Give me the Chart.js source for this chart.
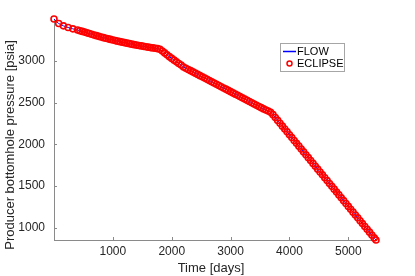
<!DOCTYPE html>
<html>
<head>
<meta charset="utf-8">
<script src="https://cdn.jsdelivr.net/npm/chart.js@4/dist/chart.umd.min.js"></script>
<style>
  html, body { margin: 0; padding: 0; background: #ffffff; }
  #wrap { width: 415px; height: 276px; }
</style>
</head>
<body>
<div id="wrap"><canvas id="c" width="415" height="276"></canvas></div>
<script>
// ---- Data ----
const days = [0, 80, 160, 240, 320, 400, 440, 480, 520, 560, 600, 640, 680, 720, 760, 800, 840, 880, 920, 960,
  1000, 1040, 1080, 1120, 1160, 1200, 1240, 1280, 1320, 1360, 1400, 1440, 1480, 1520, 1560, 1600, 1640, 1680, 1720, 1760,
  1800, 1840, 1880, 1920, 1960, 2000, 2040, 2080, 2120, 2160, 2200, 2240, 2280, 2320, 2360, 2400, 2440, 2480, 2520, 2560,
  2600, 2640, 2680, 2720, 2760, 2800, 2840, 2880, 2920, 2960, 3000, 3040, 3080, 3120, 3160, 3200, 3240, 3280, 3320, 3360,
  3400, 3440, 3480, 3520, 3560, 3600, 3640, 3680, 3720, 3760, 3800, 3840, 3880, 3920, 3960, 4000, 4040, 4080, 4120, 4160,
  4200, 4240, 4280, 4320, 4360, 4400, 4440, 4480, 4520, 4560, 4600, 4640, 4680, 4720, 4760, 4800, 4840, 4880, 4920, 4960,
  5000, 5040, 5080, 5120, 5160, 5200, 5240, 5280, 5320, 5360, 5400, 5440, 5470];

const eclipsePressure = [3504, 3450, 3422, 3402, 3386, 3372, 3363, 3355, 3347, 3338, 3330, 3321, 3312, 3304, 3296, 3288, 3280, 3273, 3266, 3259,
  3252, 3245, 3238, 3232, 3226, 3220, 3214, 3208, 3202, 3196, 3191, 3186, 3181, 3176, 3171, 3166, 3161, 3157, 3153, 3148,
  3141, 3120, 3097, 3074, 3052, 3031, 3010, 2990, 2970, 2951, 2928, 2913, 2898, 2884, 2869, 2854, 2839, 2824, 2810, 2795,
  2780, 2765, 2750, 2736, 2721, 2706, 2691, 2676, 2662, 2647, 2632, 2617, 2602, 2588, 2573, 2558, 2543, 2528, 2514, 2499,
  2484, 2469, 2454, 2440, 2425, 2412, 2400, 2384, 2356, 2322, 2287, 2253, 2218, 2184, 2150, 2115, 2081, 2046, 2012, 1978,
  1943, 1909, 1874, 1840, 1806, 1771, 1737, 1702, 1668, 1634, 1599, 1565, 1530, 1496, 1462, 1427, 1393, 1358, 1324, 1290,
  1255, 1221, 1186, 1152, 1118, 1083, 1049, 1014, 980, 946, 911, 877, 852];

const flowPressure = [3504, 3450, 3422, 3402, 3386, 3372, 3363, 3355, 3347, 3338, 3330, 3321, 3312, 3304, 3296, 3288, 3280, 3273, 3266, 3259,
  3252, 3245, 3238, 3232, 3226, 3220, 3214, 3208, 3202, 3196, 3191, 3186, 3181, 3176, 3171, 3166, 3161, 3157, 3153, 3148,
  3141, 3120, 3097, 3074, 3052, 3031, 3010, 2990, 2970, 2951, 2928, 2913, 2898, 2884, 2869, 2854, 2839, 2824, 2810, 2795,
  2780, 2765, 2750, 2736, 2721, 2706, 2691, 2676, 2662, 2647, 2632, 2617, 2602, 2588, 2573, 2558, 2543, 2528, 2514, 2499,
  2484, 2469, 2454, 2440, 2425, 2412, 2400, 2384, 2356, 2322, 2287, 2253, 2218, 2184, 2150, 2115, 2081, 2046, 2012, 1978,
  1943, 1909, 1874, 1840, 1806, 1771, 1737, 1702, 1668, 1634, 1599, 1565, 1530, 1496, 1462, 1427, 1393, 1358, 1324, 1290,
  1255, 1221, 1186, 1152, 1118, 1083, 1049, 1014, 980, 946, 911, 877, 852];

const seriesNames = ['FLOW', 'ECLIPSE'];
const xTicks = [1000, 2000, 3000, 4000, 5000];
const yTicks = [1000, 1500, 2000, 2500, 3000];
const xTitle = 'Time [days]';
const yTitle = 'Producer bottomhole pressure [psia]';

// ---- Styling ----
const FONT = '"Liberation Sans", Arial, Helvetica, sans-serif';
const AXIS_COLOR = '#8a8a8a';
const TEXT_COLOR = '#262626';

const toPoints = (xs, ys) => xs.map((x, i) => ({ x: x, y: ys[i] }));

const extras = {
  id: 'extras',
  afterDraw(chart) {
    const ctx = chart.ctx;
    const xs = chart.scales.x, ys = chart.scales.y;
    const area = chart.chartArea;
    ctx.save();
    // inward tick marks
    ctx.strokeStyle = AXIS_COLOR;
    ctx.lineWidth = 1;
    ctx.beginPath();
    xs.ticks.forEach(t => {
      const px = Math.round(xs.getPixelForValue(t.value)) + 0.5;
      ctx.moveTo(px, area.bottom);
      ctx.lineTo(px, area.bottom - 3);
    });
    ys.ticks.forEach(t => {
      const py = Math.round(ys.getPixelForValue(t.value)) + 0.5;
      ctx.moveTo(area.left, py);
      ctx.lineTo(area.left + 3, py);
    });
    ctx.stroke();

    // axis titles
    ctx.fillStyle = TEXT_COLOR;
    ctx.font = '13px ' + FONT;
    ctx.textAlign = 'center';
    ctx.textBaseline = 'middle';
    ctx.fillText(xTitle, (area.left + area.right) / 2 - 4, 268);
    ctx.save();
    ctx.translate(10, 145);
    ctx.rotate(-Math.PI / 2);
    ctx.fillText(yTitle, 0, 0);
    ctx.restore();

    // legend box
    const bx = 280.5, by = 43.5, bw = 64, bh = 28;
    ctx.fillStyle = '#ffffff';
    ctx.fillRect(bx, by, bw, bh);
    ctx.strokeStyle = '#a6a6a6';
    ctx.lineWidth = 1;
    ctx.strokeRect(bx, by, bw, bh);
    // FLOW entry
    ctx.strokeStyle = '#0000ff';
    ctx.lineWidth = 1.5;
    ctx.beginPath();
    ctx.moveTo(283, 51.5);
    ctx.lineTo(296, 51.5);
    ctx.stroke();
    // ECLIPSE entry
    ctx.strokeStyle = '#ff0000';
    ctx.lineWidth = 1.5;
    ctx.beginPath();
    ctx.arc(289.5, 63.5, 2.5, 0, Math.PI * 2);
    ctx.stroke();
    ctx.fillStyle = '#000000';
    ctx.font = '11px ' + FONT;
    ctx.textAlign = 'left';
    ctx.textBaseline = 'middle';
    ctx.fillText(seriesNames[0], 297, 52);
    ctx.fillText(seriesNames[1], 297, 64);
    ctx.restore();
  }
};

new Chart(document.getElementById('c'), {
  type: 'line',
  data: {
    datasets: [
      {
        label: seriesNames[1],
        data: toPoints(days, eclipsePressure),
        showLine: false,
        pointStyle: 'circle',
        pointRadius: 3,
        pointBorderWidth: 1.6,
        pointBorderColor: '#ff0000',
        pointBackgroundColor: 'rgba(0,0,0,0)',
        clip: false
      },
      {
        label: seriesNames[0],
        data: toPoints(days, flowPressure),
        borderColor: '#0000ff',
        borderWidth: 1,
        pointRadius: 0,
        tension: 0,
        fill: false,
        clip: false
      }
    ]
  },
  options: {
    responsive: false,
    animation: false,
    devicePixelRatio: 1,
    layout: { padding: { top: 19, right: 39, left: 0, bottom: 0 } },
    plugins: { legend: { display: false }, tooltip: { enabled: false } },
    scales: {
      x: {
        type: 'linear',
        min: 0,
        max: 5470,
        grid: { display: false, drawTicks: false },
        border: { display: true, color: AXIS_COLOR, width: 1 },
        ticks: { font: { family: FONT, size: 12 }, color: TEXT_COLOR, padding: 4, maxRotation: 0, autoSkip: false,
                 callback: v => String(v) },
        afterBuildTicks: s => { s.ticks = xTicks.map(v => ({ value: v })); },
        afterFit: s => { s.height = 36; }
      },
      y: {
        type: 'linear',
        min: 852,
        max: 3504,
        grid: { display: false, drawTicks: false },
        border: { display: true, color: AXIS_COLOR, width: 1 },
        ticks: { font: { family: FONT, size: 12 }, color: TEXT_COLOR, padding: 9, autoSkip: false,
                 callback: v => String(v) },
        afterBuildTicks: s => { s.ticks = yTicks.map(v => ({ value: v })); },
        afterFit: s => { s.width = 54; }
      }
    }
  },
  plugins: [extras]
});
</script>
</body>
</html>
